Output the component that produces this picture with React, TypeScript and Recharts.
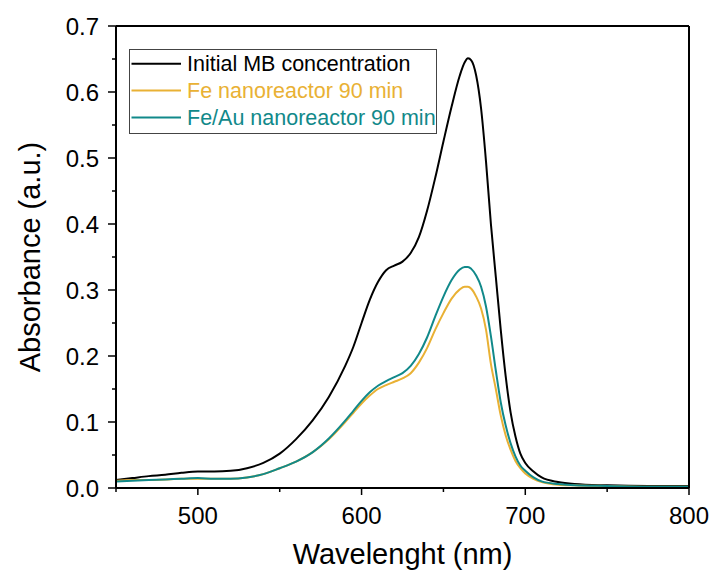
import React from 'react';
import { LineChart, Line, XAxis, YAxis, Legend } from 'recharts';

const WAVELENGTH = [450,460,470,480,490,500,510,520,530,540,550,560,570,580,590,595,600,605,610,615,620,625,630,635,640,645,650,655,660,663,665,667,670,673,676,679,682,685,688,691,694,697,700,705,710,720,730,750,775,800];

const INITIAL_MB = [0.012,0.015,0.018,0.020,0.023,0.025,0.025,0.026,0.030,0.038,0.052,0.074,0.102,0.138,0.185,0.214,0.250,0.285,0.312,0.330,0.337,0.343,0.356,0.380,0.420,0.470,0.525,0.578,0.625,0.645,0.651,0.648,0.625,0.575,0.495,0.400,0.320,0.240,0.170,0.115,0.078,0.052,0.038,0.025,0.016,0.009,0.006,0.004,0.003,0.003];

const FE_90 = [0.011,0.012,0.012,0.013,0.014,0.014,0.014,0.014,0.016,0.021,0.030,0.040,0.054,0.074,0.100,0.114,0.128,0.140,0.150,0.156,0.161,0.166,0.174,0.190,0.212,0.240,0.265,0.287,0.301,0.305,0.305,0.302,0.290,0.272,0.240,0.188,0.150,0.110,0.080,0.058,0.041,0.030,0.022,0.014,0.009,0.005,0.004,0.003,0.002,0.002];

const FEAU_90 = [0.010,0.011,0.012,0.013,0.014,0.015,0.014,0.014,0.016,0.021,0.030,0.040,0.054,0.075,0.102,0.117,0.132,0.145,0.155,0.162,0.168,0.174,0.185,0.203,0.228,0.260,0.290,0.315,0.331,0.335,0.335,0.332,0.322,0.305,0.275,0.230,0.178,0.130,0.095,0.068,0.048,0.034,0.026,0.016,0.010,0.006,0.004,0.003,0.002,0.002];

const X_TICKS = [450,500,550,600,650,700,750,800];
const X_LABELS = [500,600,700,800];
const Y_TICKS = [0,0.05,0.1,0.15,0.2,0.25,0.3,0.35,0.4,0.45,0.5,0.55,0.6,0.65,0.7];

const SERIES = [
  { key: 'mb', name: 'Initial MB concentration', color: '#000000' },
  { key: 'fe', name: 'Fe nanoreactor 90 min', color: '#E9B134' },
  { key: 'feau', name: 'Fe/Au nanoreactor 90 min', color: '#11898A' },
];

const data = WAVELENGTH.map((w, i) => ({ w, mb: INITIAL_MB[i], fe: FE_90[i], feau: FEAU_90[i] }));

const FONT = '"Liberation Sans", Arial, sans-serif';

const XTick = (props: any) => {
  const { x, y, payload } = props;
  const major = X_LABELS.includes(payload.value);
  return (
    <g>
      <line x1={x} x2={x} y1={y} y2={y + (major ? 7 : 4)} stroke="#000" strokeWidth={1.5} />
      {major && (
        <text x={x} y={y + 36} textAnchor="middle" fontSize={24} fontFamily={FONT} fill="#000">
          {payload.value}
        </text>
      )}
    </g>
  );
};

const YTick = (props: any) => {
  const { x, y, payload } = props;
  const v = payload.value;
  const major = Math.abs(v * 10 - Math.round(v * 10)) < 1e-6;
  return (
    <g>
      <line x1={x} x2={x - (major ? 8 : 4)} y1={y} y2={y} stroke="#000" strokeWidth={1.5} />
      {major && (
        <text x={x - 17} y={y + 8.6} textAnchor="end" fontSize={24} fontFamily={FONT} fill="#000">
          {v.toFixed(1)}
        </text>
      )}
    </g>
  );
};

const renderLegend = () => (
  <svg width={309} height={86} style={{ display: 'block' }}>
    <rect x={0.5} y={0.5} width={307} height={84} fill="#fff" stroke="#444" strokeWidth={1} />
    {SERIES.map((s, i) => {
      const cy = 14.7 + i * 26.9;
      return (
        <g key={s.key}>
          <line x1={2.5} x2={52} y1={cy} y2={cy} stroke={s.color} strokeWidth={2} />
          <text x={58} y={cy + 7.7} fontSize={21.5} fontFamily={FONT} fill={s.color}>
            {s.name}
          </text>
        </g>
      );
    })}
  </svg>
);

const XTitle = (props: any) => {
  const { viewBox } = props;
  const cx = viewBox.x + viewBox.width / 2;
  return (
    <text x={cx} y={564} textAnchor="middle" fontSize={29} fontFamily={FONT} fill="#000">
      Wavelenght (nm)
    </text>
  );
};

const YTitle = (props: any) => {
  const { viewBox } = props;
  const cy = viewBox.y + viewBox.height / 2;
  return (
    <text x={0} y={0} transform={`translate(40, ${cy}) rotate(-90)`} textAnchor="middle" fontSize={29} fontFamily={FONT} fill="#000">
      Absorbance (a.u.)
    </text>
  );
};

export default function App() {
  const axisLine = { stroke: '#000', strokeWidth: 2 };
  return (
    <div style={{ position: 'absolute', left: 0, top: 0, background: '#fff' }}>
      <LineChart width={714} height={579} data={data} margin={{ top: 25, right: 24, bottom: 0, left: 0 }}>
        <XAxis
          xAxisId="b"
          dataKey="w"
          type="number"
          domain={[450, 800]}
          ticks={X_TICKS}
          interval={0}
          height={91}
          tickLine={false}
          tickSize={0}
          tickMargin={0}
          axisLine={axisLine}
          tick={<XTick />}
          allowDataOverflow
          label={{ content: <XTitle /> }}
        />
        <XAxis xAxisId="t" orientation="top" type="number" domain={[450, 800]} ticks={[450, 800]} height={1} tick={false} tickLine={false} axisLine={axisLine} />
        <YAxis
          yAxisId="l"
          type="number"
          domain={[0, 0.7]}
          ticks={Y_TICKS}
          interval={0}
          width={116}
          tickLine={false}
          tickSize={0}
          tickMargin={0}
          axisLine={axisLine}
          tick={<YTick />}
          allowDataOverflow
          label={{ content: <YTitle /> }}
        />
        <YAxis yAxisId="r" orientation="right" type="number" domain={[0, 0.7]} ticks={[0, 0.7]} width={1} tick={false} tickLine={false} axisLine={axisLine} />
        <Legend
          layout="vertical"
          align="center"
          verticalAlign="middle"
          content={renderLegend}
          wrapperStyle={{ left: 129, top: 49, width: 309, height: 86 }}
        />
        {SERIES.map((s) => (
          <Line
            key={s.key}
            xAxisId="b"
            yAxisId="l"
            type="monotone"
            dataKey={s.key}
            name={s.name}
            stroke={s.color}
            strokeWidth={2}
            dot={false}
            activeDot={false}
            isAnimationActive={false}
          />
        ))}
      </LineChart>
    </div>
  );
}
